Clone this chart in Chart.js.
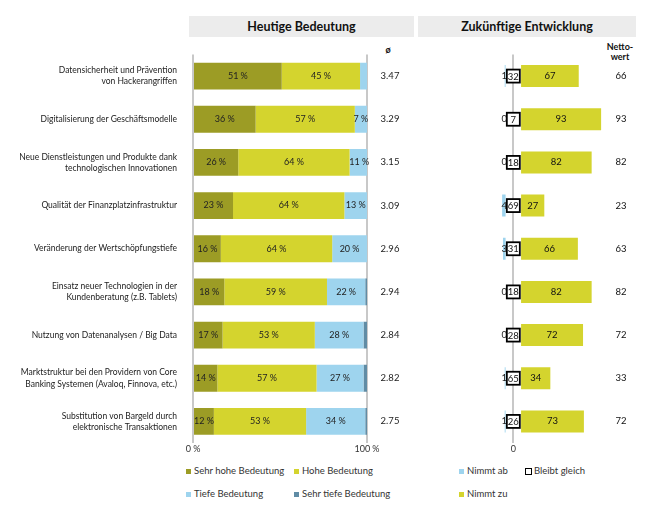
<!DOCTYPE html>
<html>
<head>
<meta charset="utf-8">
<script src="https://cdn.jsdelivr.net/npm/chart.js@4.4.0/dist/chart.umd.min.js"></script>
<style>
  body { margin: 0; background: #fff; font-family: Lato, "Open Sans", sans-serif; color: #222; }
  #wrap { position: relative; width: 655px; height: 523px; overflow: hidden; }
  canvas { position: absolute; }
  .hd { position: absolute; top: 16px; height: 21px; line-height: 21px; background: #ececec; font-weight: bold; font-size: 12.5px; text-align: center; color: #111; }
  .col { position: absolute; font-weight: bold; font-size: 9px; line-height: 10px; text-align: center; color: #111; }
  .lg { position: absolute; font-size: 9.5px; line-height: 12px; white-space: nowrap; color: #333; }
  .lg i { position: absolute; left: -8px; top: 4px; width: 5px; height: 5px; }
  .lg i.box { width: 5px; height: 5px; border: 1.5px solid #000; background: #fff; left: -9px; top: 2.5px; }
</style>
</head>
<body>
<div id="wrap">
  <div class="hd" style="left:189px;width:225px;">Heutige Bedeutung</div>
  <div class="hd" style="left:418px;width:218px;">Zukünftige Entwicklung</div>
  <div class="col" style="left:378px;width:20px;top:45px;">ø</div>
  <div class="col" style="left:600px;width:40px;top:42px;">Netto-<br>wert</div>

  <canvas id="left" width="410" height="410" style="left:0;top:50px;"></canvas>
  <canvas id="right" width="242" height="410" style="left:413px;top:50px;"></canvas>

  <div class="lg" style="left:194px;top:465px;"><i style="background:#9c9c25"></i>Sehr hohe Bedeutung</div>
  <div class="lg" style="left:302px;top:465px;"><i style="background:#d4d42e"></i>Hohe Bedeutung</div>
  <div class="lg" style="left:194px;top:488px;"><i style="background:#9ed4ee"></i>Tiefe Bedeutung</div>
  <div class="lg" style="left:302px;top:488px;"><i style="background:#608ca5"></i>Sehr tiefe Bedeutung</div>
  <div class="lg" style="left:467px;top:465px;"><i style="background:#9ed4ee"></i>Nimmt ab</div>
  <div class="lg" style="left:534px;top:465px;"><i class="box"></i>Bleibt gleich</div>
  <div class="lg" style="left:467px;top:488px;"><i style="background:#d4d42e"></i>Nimmt zu</div>
</div>
<script>
const categories = [
  ['Datensicherheit und Prävention', 'von Hackerangriffen'],
  'Digitalisierung der Geschäftsmodelle',
  ['Neue Dienstleistungen und Produkte dank', 'technologischen Innovationen'],
  'Qualität der Finanzplatzinfrastruktur',
  'Veränderung der Wertschöpfungstiefe',
  ['Einsatz neuer Technologien in der', 'Kundenberatung (z.B. Tablets)'],
  'Nutzung von Datenanalysen / Big Data',
  ['Marktstruktur bei den Providern von Core', 'Banking Systemen (Avaloq, Finnova, etc.)'],
  ['Substitution von Bargeld durch', 'elektronische Transaktionen']
];

// Heutige Bedeutung, in %
const sehrHoch = [51, 36, 26, 23, 16, 18, 17, 14, 12];
const hoch     = [45, 57, 64, 64, 64, 59, 53, 57, 53];
const tief     = [4, 7, 11, 13, 20, 22, 28, 27, 34];
const sehrTief = [0, 0, 0, 0, 0, 1, 2, 2, 1];
const mittelwert = ['3.47', '3.29', '3.15', '3.09', '2.96', '2.94', '2.84', '2.82', '2.75'];

// Zukünftige Entwicklung
const nimmtAb      = [1, 0, 0, 4, 3, 0, 0, 1, 1];
const bleibtGleich = [32, 7, 18, 69, 31, 18, 28, 65, 26];
const nimmtZu      = [67, 93, 82, 27, 66, 82, 72, 34, 73];
const nettowert    = [66, 93, 82, 23, 63, 82, 72, 33, 72];

const GAP = 9; // room for the "bleibt gleich" box around zero
const FONT = 'Lato, "Open Sans", sans-serif';
Chart.defaults.font.family = FONT;
Chart.defaults.color = '#222';

const leftLabels = {
  id: 'leftLabels',
  afterDatasetsDraw(chart) {
    const { ctx, chartArea, scales } = chart;
    ctx.save();
    ctx.font = '9px ' + FONT;
    ctx.fillStyle = '#222';
    ctx.textAlign = 'center';
    ctx.textBaseline = 'middle';
    chart.data.datasets.forEach((ds, i) => {
      chart.getDatasetMeta(i).data.forEach((el, j) => {
        const v = ds.data[j];
        if (v < 7) return;
        const p = el.getCenterPoint();
        ctx.fillText(v + '\u202F%', p.x, p.y);
      });
    });
    ctx.font = '9.5px ' + FONT;
    mittelwert.forEach((m, j) => {
      ctx.fillText(m, chartArea.right + 23, scales.y.getPixelForValue(j));
    });
    ctx.restore();
  }
};

const rightLabels = {
  id: 'rightLabels',
  afterDatasetsDraw(chart) {
    const { ctx, chartArea, scales } = chart;
    const zero = scales.x.getPixelForValue(0);
    ctx.save();
    ctx.textAlign = 'center';
    ctx.textBaseline = 'middle';
    ctx.font = '9.5px ' + FONT;
    bleibtGleich.forEach((b, j) => {
      const y = scales.y.getPixelForValue(j);
      ctx.fillStyle = '#222';
      ctx.fillText(nimmtAb[j], zero - 9, y);
      ctx.fillStyle = '#fff';
      ctx.fillRect(zero - 6.5, y - 6.5, 13, 13);
      ctx.strokeStyle = '#000';
      ctx.lineWidth = 1.8;
      ctx.strokeRect(zero - 6.5, y - 6.5, 13, 13);
      ctx.fillStyle = '#111';
      ctx.fillText(b, zero, y + 0.5);
      ctx.fillText(nettowert[j], chartArea.right + 13, y);
    });
    chart.getDatasetMeta(1).data.forEach((el, j) => {
      const p = el.getCenterPoint();
      ctx.fillText(nimmtZu[j], p.x, p.y);
    });
    ctx.restore();
  }
};

new Chart(document.getElementById('left'), {
  type: 'bar',
  data: {
    labels: categories,
    datasets: [
      { label: 'Sehr hohe Bedeutung', data: sehrHoch, backgroundColor: '#9c9c25' },
      { label: 'Hohe Bedeutung', data: hoch, backgroundColor: '#d4d42e' },
      { label: 'Tiefe Bedeutung', data: tief, backgroundColor: '#9ed4ee' },
      { label: 'Sehr tiefe Bedeutung', data: sehrTief, backgroundColor: '#608ca5' }
    ]
  },
  options: {
    indexAxis: 'y',
    responsive: false,
    animation: false,
    categoryPercentage: 1,
    barPercentage: 0.62,
    layout: { padding: { left: 0, right: 43, top: 4.5, bottom: 3 } },
    plugins: { legend: { display: false }, tooltip: { enabled: false } },
    scales: {
      x: {
        stacked: true, min: 0, max: 100,
        ticks: { stepSize: 100, padding: 1, font: { size: 9 }, color: '#333', callback: v => v + '\u202F%' },
        grid: { color: '#c8c8c8', lineWidth: 2, drawTicks: false },
        border: { display: false },
        afterFit: s => { s.height = 14; }
      },
      y: {
        stacked: true,
        ticks: { padding: 8, font: { size: 8.5, lineHeight: 1.3 }, color: '#222' },
        grid: { display: false },
        border: { display: false },
        afterFit: s => { s.width = 193; s.paddingTop = 0; s.paddingBottom = 0; }
      }
    }
  },
  plugins: [leftLabels]
});

new Chart(document.getElementById('right'), {
  type: 'bar',
  data: {
    labels: categories,
    datasets: [
      { label: 'Nimmt ab', data: nimmtAb.map(v => [-GAP - v, -GAP]), backgroundColor: '#9ed4ee', grouped: false },
      { label: 'Nimmt zu', data: nimmtZu.map(v => [GAP, GAP + v]), backgroundColor: '#d4d42e', grouped: false }
    ]
  },
  options: {
    indexAxis: 'y',
    responsive: false,
    animation: false,
    categoryPercentage: 1,
    barPercentage: 0.51,
    layout: { padding: { left: 74.5, right: 47, top: 4.5, bottom: 3 } },
    plugins: { legend: { display: false }, tooltip: { enabled: false } },
    scales: {
      x: {
        min: -30, max: 110,
        ticks: { stepSize: 10, padding: 1, font: { size: 9 }, color: '#333', autoSkip: false, maxRotation: 0,
                 callback: v => v === 0 ? '0' : '' },
        grid: { color: c => (c.tick && c.tick.value === 0) ? '#c8c8c8' : 'rgba(0,0,0,0)', lineWidth: 2, drawTicks: false },
        border: { display: false },
        afterFit: s => { s.height = 14; }
      },
      y: { display: false }
    }
  },
  plugins: [rightLabels]
});
</script>
</body>
</html>
